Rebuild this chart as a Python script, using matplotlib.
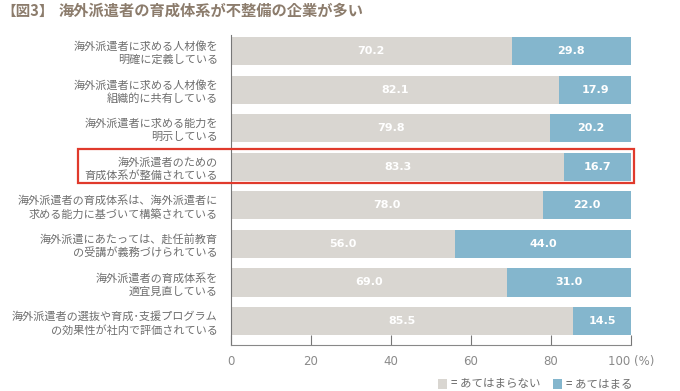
import matplotlib
matplotlib.use("Agg")
import matplotlib.pyplot as plt
from matplotlib.patches import Rectangle

plt.rcParams['font.family'] = ['Noto Sans CJK JP', 'DejaVu Sans']

categories = [
    "海外派遣者に求める人材像を\n明確に定義している",
    "海外派遣者に求める人材像を\n組織的に共有している",
    "海外派遣者に求める能力を\n明示している",
    "海外派遣者のための\n育成体系が整備されている",
    "海外派遣者の育成体系は、海外派遣者に\n求める能力に基づいて構築されている",
    "海外派遣にあたっては、赴任前教育\nの受講が義務づけられている",
    "海外派遣者の育成体系を\n適宜見直している",
    "海外派遣者の選抜や育成･支援プログラム\nの効果性が社内で評価されている",
]
not_apply = [70.2, 82.1, 79.8, 83.3, 78.0, 56.0, 69.0, 85.5]
apply_ = [29.8, 17.9, 20.2, 16.7, 22.0, 44.0, 31.0, 14.5]
xticks = [0, 20, 40, 60, 80, 100]
xticklabels = ["0", "20", "40", "60", "80", "100 (%)"]
legend_labels = ["= あてはまらない", "= あてはまる"]
title_prefix = "【図3】"
title = "海外派遣者の育成体系が不整備の企業が多い"

gray = "#d9d6d1"
blue = "#84b6cd"
txt = "#6e6e6e"

fig = plt.figure(figsize=(6.8, 3.91), dpi=100)
W, H = 680, 391
ax = fig.add_axes([231 / W, 1 - 345 / H, 400 / W, (345 - 35) / H])

y = list(range(len(categories)))
ax.barh(y, not_apply, height=0.73, color=gray, edgecolor="none")
ax.barh(y, apply_, left=not_apply, height=0.73, color=blue, edgecolor="none")
for i in y:
    ax.text(not_apply[i] / 2, i, f"{not_apply[i]:.1f}", ha="center", va="center",
            color="white", fontsize=8, fontweight="bold", family="DejaVu Sans")
    ax.text(not_apply[i] + apply_[i] / 2, i, f"{apply_[i]:.1f}", ha="center", va="center",
            color="white", fontsize=8, fontweight="bold", family="DejaVu Sans")

ax.set_xlim(0, 100)
ax.set_ylim(len(categories) - 1 + 0.62, -0.415)
ax.set_yticks(y)
ax.set_yticklabels(categories, fontsize=8.0, color=txt, linespacing=1.3)
ax.tick_params(axis="y", length=0, pad=9.5)
ax.set_xticks(xticks)
ax.set_xticklabels(xticklabels, fontsize=8.5, color="#8a8a8a")
ax.tick_params(axis="x", direction="in", length=7, color="#777777", pad=7)
for lab in ax.get_xticklabels():
    lab.set_family("DejaVu Sans")
for s in ["top", "right"]:
    ax.spines[s].set_visible(False)
ax.spines["left"].set_color("#777777")
ax.spines["bottom"].set_color("#888888")

# highlight box
fig.patches.append(Rectangle((78 / W, 1 - 183 / H), (634 - 78) / W, (183 - 149) / H,
                             transform=fig.transFigure, fill=False,
                             edgecolor="#e03a2c", linewidth=1.6))

fig.text(1 / W, 1 - 11 / H, title_prefix, fontsize=10.5, fontweight="bold",
         color="#8c7c6c", va="center", ha="left")
fig.text(59 / W, 1 - 11 / H, title, fontsize=11, fontweight="bold",
         color="#8c7c6c", va="center", ha="left")

# legend
fig.patches.append(Rectangle((438 / W, 1 - 389 / H), 9 / W, 10 / H,
                             transform=fig.transFigure, facecolor=gray, edgecolor="none"))
fig.text(451 / W, 1 - 384 / H, legend_labels[0], fontsize=8.3, color=txt, va="center")
fig.patches.append(Rectangle((553 / W, 1 - 389 / H), 9 / W, 10 / H,
                             transform=fig.transFigure, facecolor=blue, edgecolor="none"))
fig.text(566 / W, 1 - 384 / H, legend_labels[1], fontsize=8.3, color=txt, va="center")

fig.savefig("out.png", dpi=100)
